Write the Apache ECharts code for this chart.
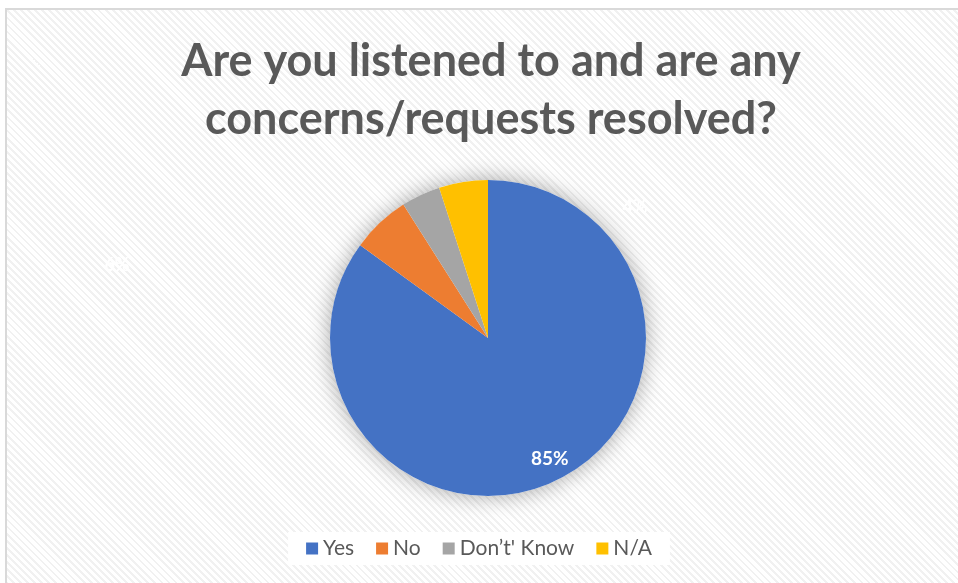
<!DOCTYPE html>
<html>
<head>
<meta charset="utf-8">
<script src="https://cdn.jsdelivr.net/npm/echarts@6/dist/echarts.min.js"></script>
<style>
html,body{margin:0;padding:0;background:#fff;width:958px;height:583px;overflow:hidden;}
#bg{position:absolute;left:5px;top:8px;width:970px;height:600px;border-left:2px solid #d9d9d9;border-top:2px solid #d9d9d9;
background:repeating-linear-gradient(45deg,#ffffff 0px,#ffffff 3px,#f1f1f1 3px,#f1f1f1 5px);}
#chart{position:absolute;left:0;top:0;width:958px;height:583px;}
</style>
</head>
<body>
<div id="bg"></div>
<div id="chart"></div>
<script>
const titleText = 'Are you listened to and are any\nconcerns/requests resolved?';
const categories = ['Yes', 'No', "Don’t' Know", 'N/A'];
const values = [85, 6, 4, 5];
const colors = ['#4472C4', '#ED7D31', '#A5A5A5', '#FFC000'];

const chart = echarts.init(document.getElementById('chart'), null, {renderer: 'canvas'});
const center = [488, 338];
const R = 158;

const mainData = categories.map((n, i) => ({
  name: n, value: values[i],
  itemStyle: {color: colors[i]},
  label: {show: i === 1 || i === 2}
}));

chart.setOption({
  backgroundColor: 'transparent',
  title: {
    text: titleText,
    left: 486,
    textAlign: 'center',
    top: 27,
    textStyle: {fontFamily: 'Lato', fontWeight: 'bold', fontSize: 45, color: '#595959', lineHeight: 58}
  },
  legend: {
    data: categories,
    bottom: 18,
    left: 'center',
    icon: 'rect',
    itemWidth: 12,
    itemHeight: 12,
    itemGap: 22,
    backgroundColor: '#ffffff',
    padding: [6, 18],
    textStyle: {fontFamily: 'Lato', fontSize: 21, color: '#595959'}
  },
  series: [
    {
      type: 'pie', silent: true, center: center, radius: [0, R], z: 1,
      data: [{value: 1, itemStyle: {color: '#ffffff', shadowBlur: 22, shadowColor: 'rgba(0,0,0,0.35)'}}],
      label: {show: false}, labelLine: {show: false}
    },
    {
      type: 'pie', name: 'main', center: center, radius: [0, R], z: 2,
      startAngle: 90, clockwise: true,
      itemStyle: {borderWidth: 0},
      data: mainData,
      label: {position: 'outside', color: '#ffffff', fontFamily: 'Lato', fontWeight: 'bold', fontSize: 18, formatter: '{c}%'},
      labelLine: {show: false},
      labelLayout: function (p) {
        if (p.dataIndex === 1) return {x: 117, y: 265, align: 'center', verticalAlign: 'middle'};
        if (p.dataIndex === 2) return {x: 635, y: 207, align: 'center', verticalAlign: 'middle'};
        return {};
      }
    },
    {
      type: 'pie', silent: true, center: center, radius: [0, 2 * 133], z: 3,
      startAngle: 90, clockwise: true,
      itemStyle: {color: 'rgba(0,0,0,0)'},
      data: categories.map((n, i) => ({name: n, value: values[i], label: {show: i === 0}})),
      label: {position: 'inside', color: '#ffffff', fontFamily: 'Lato', fontWeight: 'bold', fontSize: 19, formatter: '{c}%'},
      labelLine: {show: false},
      legendHoverLink: false
    }
  ]
});
</script>
</body>
</html>
